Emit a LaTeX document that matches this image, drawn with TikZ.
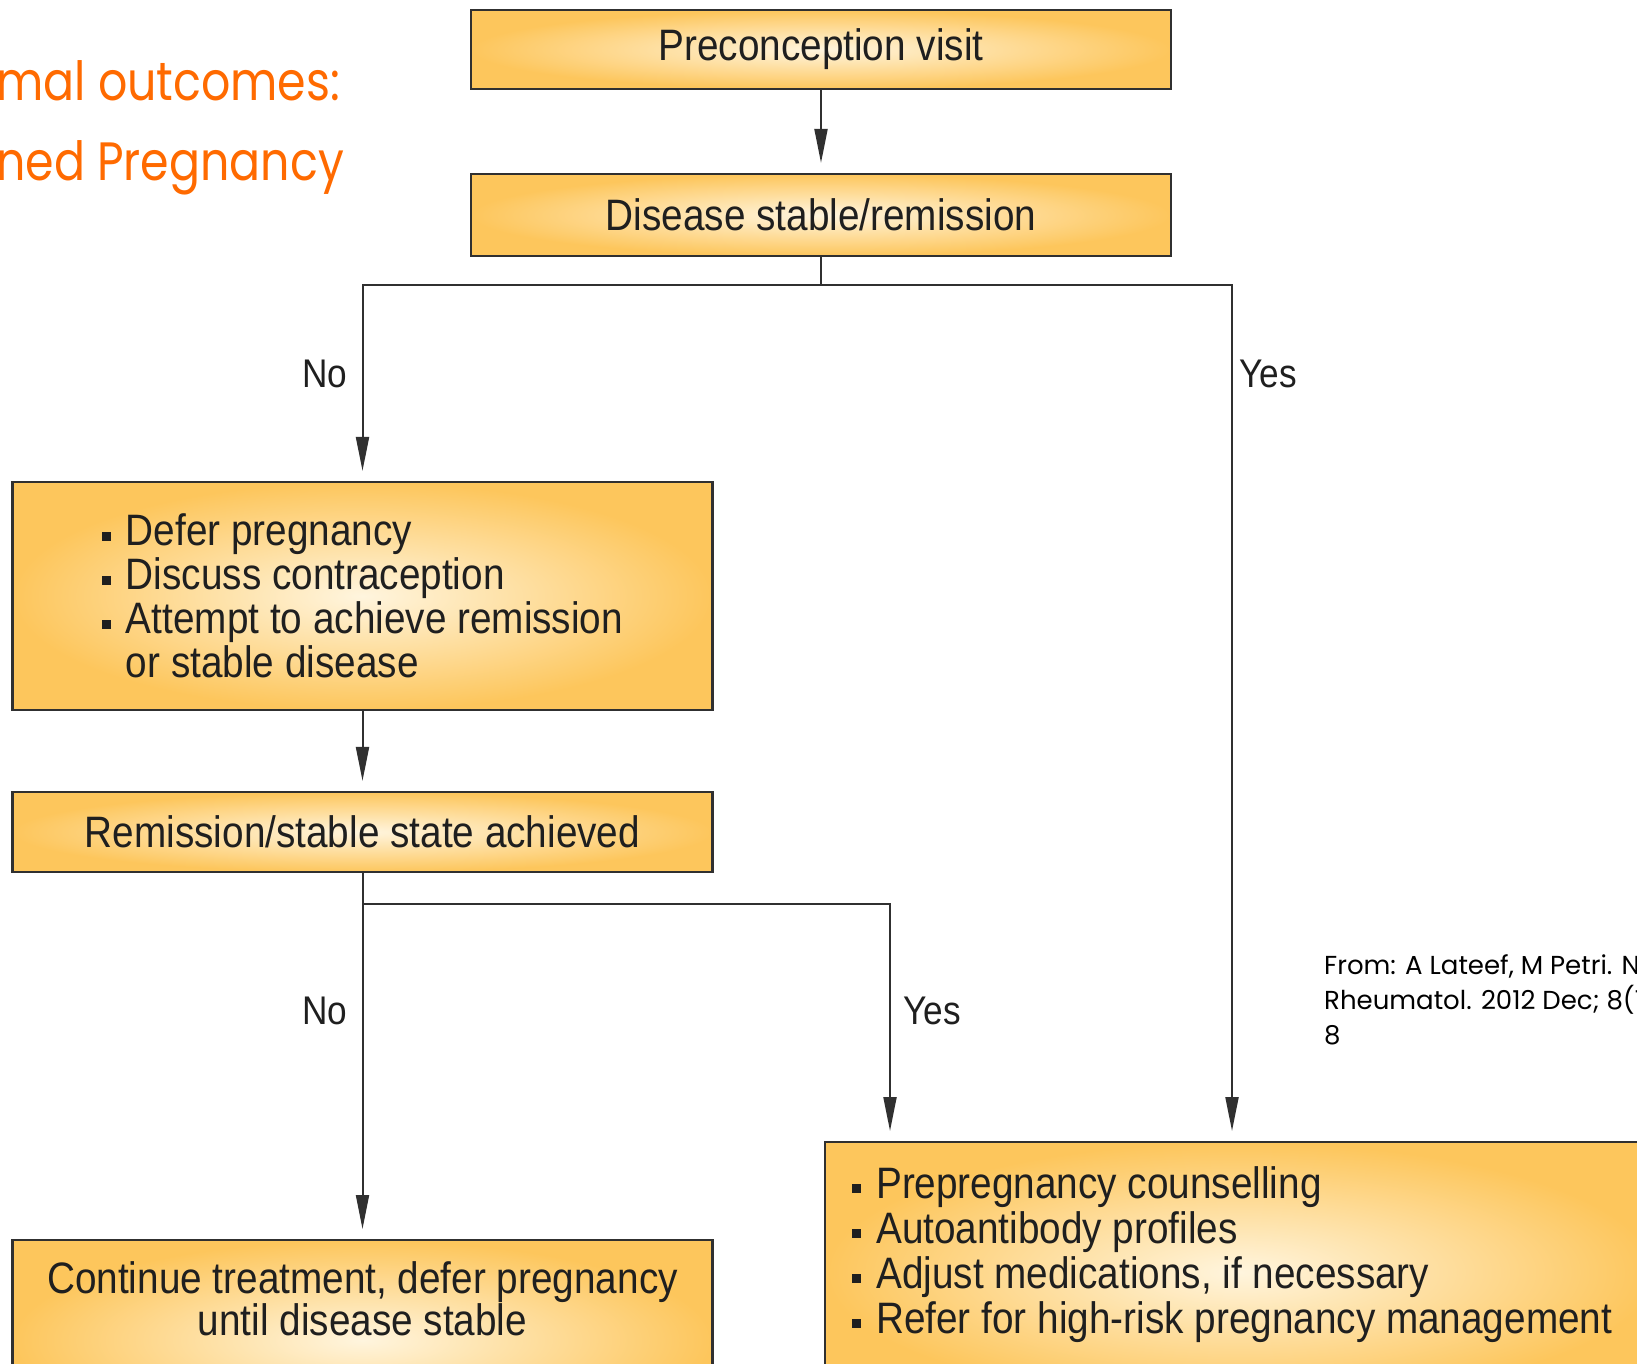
\documentclass[tikz,border=0pt]{standalone}
\usepackage{fontspec}
\usetikzlibrary{arrows.meta,positioning}
\newfontfamily\boxfont[FakeStretch=0.88]{Liberation Sans}
\newfontfamily\slidefont{Poppins}
\newfontfamily\headfont[FakeStretch=0.85]{Poppins}
\definecolor{boxedge}{RGB}{253,198,92}
\definecolor{boxcore}{RGB}{255,245,222}
\definecolor{lineclr}{RGB}{48,48,48}
\definecolor{titleorange}{RGB}{255,106,0}
\newcommand{\bulsq}{\rule[5pt]{9pt}{9pt}\hspace{15pt}}

\begin{document}
\begin{tikzpicture}[x=1pt,y=-1pt,
  flowbox/.style={draw=lineclr, line width=2.2pt, inner color=boxcore, outer color=boxedge,
    text=black!88, font=\boxfont\fontsize{44}{44}\selectfont, align=center},
  flowtext/.style={inner sep=0pt, text=black!88, font=\boxfont\fontsize{44}{44}\selectfont},
  choice/.style={text=black!88, font=\boxfont\fontsize{40}{40}\selectfont},
  flowline/.style={draw=lineclr, line width=2pt},
  flowarrow/.style={flowline, shorten >=10pt, -{Triangle[length=34pt,width=13pt]}}]

  % Page frame
  \useasboundingbox (0,0) rectangle (1637,1363);
  \clip (0,0) rectangle (1637,1363);

  % Slide title and source
  \node[anchor=base west, inner sep=0pt, text=titleorange, font=\headfont\fontsize{54}{54}\selectfont] (title1) at (-4,100) {mal outcomes:};
  \node[anchor=base west, inner sep=0pt, text=titleorange, font=\headfont\fontsize{54}{54}\selectfont] (title2) at (-4,180) {ned Pregnancy};
  \node[anchor=base west, inner sep=0pt, align=left, font=\slidefont\fontsize{26}{35}\selectfont] (source) at (1324,1044) {From: A Lateef, M Petri. Nat\\Rheumatol. 2012 Dec; 8(12)\\8};

  % Boxes
  \node[flowbox, minimum width=700, minimum height=79] (visit) at (821,49.5) {Preconception visit};
  \node[flowbox, minimum width=700, minimum height=82] (stable) at (821,215) {Disease stable/remission};
  \node[flowbox, minimum width=700, minimum height=228, align=left] (defer) at (362.5,596)
    {\bulsq Defer pregnancy\\ \bulsq Discuss contraception\\ \bulsq Attempt to achieve remission\\ \hphantom{\bulsq}or stable disease};
  \node[flowbox, minimum width=700, minimum height=80] (achieved) at (362.5,832) {Remission/stable state achieved};
  \node[flowbox, minimum width=700, minimum height=200, anchor=north] (cont) at (362.5,1239) {};
  \node[flowtext, align=center, font=\boxfont\fontsize{44}{40}\selectfont, below=22pt of cont.north] (conttxt) {Continue treatment, defer pregnancy\\ until disease stable};
  \node[flowbox, minimum width=830, minimum height=260, anchor=north west] (plan) at (824,1141) {};
  \node[flowtext, align=left, font=\boxfont\fontsize{44}{45}\selectfont, below right=25pt and 28pt of plan.north west] (plantxt)
    {\bulsq Prepregnancy counselling\\ \bulsq Autoantibody profiles\\ \bulsq Adjust medications, if necessary\\ \bulsq Refer for high-risk pregnancy management};

  % Branch points
  \coordinate (split1) at (821,285);
  \coordinate (split2) at (362.5,904);
  \coordinate (yestip1) at (1232,1141);
  \coordinate (yestip2) at (890,1141);

  % Connectors
  \draw[flowarrow] (visit) -- (stable);
  \draw[flowline] (stable) -- (split1);
  \draw[flowarrow] (split1) -| (defer.north);
  \draw[flowarrow] (split1) -| (yestip1);
  \draw[flowarrow] (defer) -- (achieved);
  \draw[flowarrow] (achieved) -- (cont.north);
  \draw[flowarrow] (split2) -| (yestip2);

  % Branch labels
  \node[choice] (no1) at (325,374) {No};
  \node[choice] (yes1) at (1268,374) {Yes};
  \node[choice] (no2) at (325,1011) {No};
  \node[choice] (yes2) at (932,1011) {Yes};

\end{tikzpicture}
\end{document}
